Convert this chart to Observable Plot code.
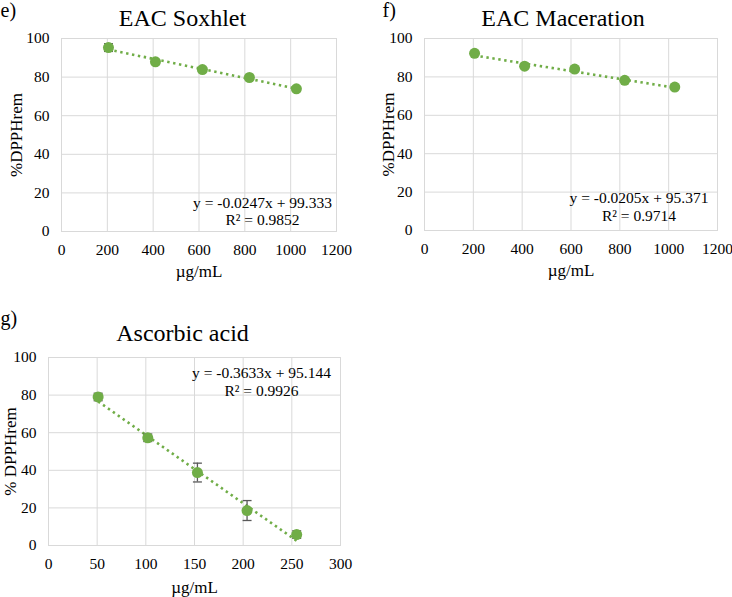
<!DOCTYPE html>
<html>
<head>
<meta charset="utf-8">
<script src="https://cdn.jsdelivr.net/npm/d3@7"></script>
<script src="https://cdn.jsdelivr.net/npm/@observablehq/plot@0.6"></script>
<style>
  html, body { margin: 0; padding: 0; background: #fff; }
  #page { position: relative; width: 732px; height: 597px; overflow: hidden; background: #fff; }
  .panel { position: absolute; }
  .panel svg, .panel svg text, .panel svg tspan { font-family: "Liberation Serif", "Times New Roman", serif !important; }
</style>
</head>
<body>
<div id="page"></div>
<script>
// ---------- data ----------
const concTicks = [0, 200, 400, 600, 800, 1000, 1200];
const ascTicks = [0, 50, 100, 150, 200, 250, 300];
const pctTicks = [0, 20, 40, 60, 80, 100];

const soxX = [205, 410, 615, 820, 1025];
const soxY = [95.3, 87.9, 83.9, 79.8, 73.9];
const soxErr = [2.0, 1.0, 1.0, 1.0, 1.0];
const soxSlope = -0.0247, soxIntercept = 99.333;
const soxEq = "y = -0.0247x + 99.333", soxR2 = "R² = 0.9852";

const macX = [205, 410, 615, 820, 1025];
const macY = [92.3, 85.6, 84.1, 78.2, 74.7];
const macErr = [0.8, 0.8, 0.8, 0.8, 0.8];
const macSlope = -0.0205, macIntercept = 95.371;
const macEq = "y = -0.0205x + 95.371", macR2 = "R² = 0.9714";

const ascX = [51, 102, 153, 204, 255];
const ascY = [79.0, 57.3, 38.8, 18.6, 5.8];
const ascErr = [2.0, 2.0, 5.0, 5.3, 2.0];
const ascSlope = -0.3633, ascIntercept = 95.144;
const ascEq = "y = -0.3633x + 95.144", ascR2 = "R² = 0.9926";

// ---------- styling ----------
const FONT = "Liberation Serif";
const GREEN = "#70ad47";
const GRID = "#d9d9d9";
const ERR = "#595959";
const capSymbol = { draw(ctx) { ctx.moveTo(-4.5, 0); ctx.lineTo(4.5, 0); } };

function panel(cfg) {
  const {left, top, width, height, mL, mT, mR, mB, xDomain, xTicks, X, Y, E, slope, intercept,
         eq, r2, title, titleX, titleBase, letter, letterX, letterBase, ylabel, ylabelX,
         xlabelBase, eqX, eqBase1, eqBase2} = cfg;
  const pts = X.map((x, i) => ({x, y: Y[i], e: E[i]}));
  const x0 = d3.min(X), x1 = d3.max(X);
  const trend = [{x: x0, y: slope * x0 + intercept}, {x: x1, y: slope * x1 + intercept}];
  const fw = width - mL - mR;
  const label = (txt, x, base, fs, anchor = "middle") => Plot.text([txt], {
    text: d => d, frameAnchor: "top-left", dx: x - mL, dy: base - 0.32 * fs - mT,
    fontSize: fs, fontFamily: FONT, textAnchor: anchor, lineAnchor: "middle", fill: "black"
  });
  const chart = Plot.plot({
    width, height, marginLeft: mL, marginTop: mT, marginRight: mR, marginBottom: mB,
    x: {domain: xDomain},
    y: {domain: [0, 100]},
    style: {fontFamily: FONT, color: "black", background: "transparent", overflow: "visible"},
    marks: [
      Plot.gridX(xTicks, {stroke: GRID, strokeOpacity: 1, strokeWidth: 1}),
      Plot.gridY(pctTicks, {stroke: GRID, strokeOpacity: 1, strokeWidth: 1}),
      Plot.frame({stroke: GRID, strokeWidth: 1}),
      Plot.axisX(xTicks, {tickSize: 0, tickPadding: 12, fontSize: 15.5, fontFamily: FONT, label: null, tickFormat: d => `${d}`}),
      Plot.axisY(pctTicks, {tickSize: 0, tickPadding: 12, fontSize: 15.5, fontFamily: FONT, label: null, tickFormat: d => `${d}`}),
      Plot.line(trend, {x: "x", y: "y", stroke: GREEN, strokeWidth: 2.6, strokeDasharray: "2.4 3.6", strokeLinecap: "butt"}),
      Plot.ruleX(pts, {x: "x", y1: d => d.y - d.e, y2: d => d.y + d.e, stroke: ERR, strokeWidth: 1.3}),
      Plot.dot(pts, {x: "x", y: d => d.y + d.e, symbol: capSymbol, stroke: ERR, fill: "none", strokeWidth: 1.3}),
      Plot.dot(pts, {x: "x", y: d => d.y - d.e, symbol: capSymbol, stroke: ERR, fill: "none", strokeWidth: 1.3}),
      Plot.dot(pts, {x: "x", y: "y", r: 5.5, fill: GREEN, stroke: "none"}),
      label(eq, eqX, eqBase1, 15.5),
      label(r2, eqX, eqBase2, 15.5),
      label(title, titleX, titleBase, 24),
      label(letter, letterX, letterBase, 20, "start"),
      Plot.text([ylabel], {text: d => d, frameAnchor: "left", dx: ylabelX - mL, rotate: -90,
        fontSize: 17, fontFamily: FONT, textAnchor: "middle", lineAnchor: "middle", fill: "black"}),
      label("µg/mL", mL + fw / 2, xlabelBase, 17)
    ]
  });
  const div = document.createElement("div");
  div.className = "panel";
  div.style.left = left + "px";
  div.style.top = top + "px";
  div.appendChild(chart);
  document.getElementById("page").appendChild(div);
}

panel({left: 0, top: 0, width: 366, height: 295, mL: 61, mT: 38, mR: 30, mB: 64,
  xDomain: [0, 1200], xTicks: concTicks, X: soxX, Y: soxY, E: soxErr,
  slope: soxSlope, intercept: soxIntercept, eq: soxEq, r2: soxR2,
  title: "EAC Soxhlet", titleX: 182, titleBase: 25, letter: "e)", letterX: 0, letterBase: 16,
  ylabel: "%DPPHrem", ylabelX: 15.6, xlabelBase: 276, eqX: 262, eqBase1: 207, eqBase2: 224});

panel({left: 370, top: 0, width: 362, height: 295, mL: 54, mT: 38, mR: 15, mB: 65,
  xDomain: [0, 1200], xTicks: concTicks, X: macX, Y: macY, E: macErr,
  slope: macSlope, intercept: macIntercept, eq: macEq, r2: macR2,
  title: "EAC Maceration", titleX: 192.5, titleBase: 25, letter: "f)", letterX: 12, letterBase: 16,
  ylabel: "%DPPHrem", ylabelX: 17.6, xlabelBase: 275, eqX: 268.5, eqBase1: 202, eqBase2: 220});

panel({left: 0, top: 300, width: 366, height: 297, mL: 48, mT: 57, mR: 26, mB: 52,
  xDomain: [0, 300], xTicks: ascTicks, X: ascX, Y: ascY, E: ascErr,
  slope: ascSlope, intercept: ascIntercept, eq: ascEq, r2: ascR2,
  title: "Ascorbic acid", titleX: 182, titleBase: 40.7, letter: "g)", letterX: 0, letterBase: 24,
  ylabel: "% DPPHrem", ylabelX: 9.6, xlabelBase: 292, eqX: 261, eqBase1: 77, eqBase2: 95});
</script>
</body>
</html>
